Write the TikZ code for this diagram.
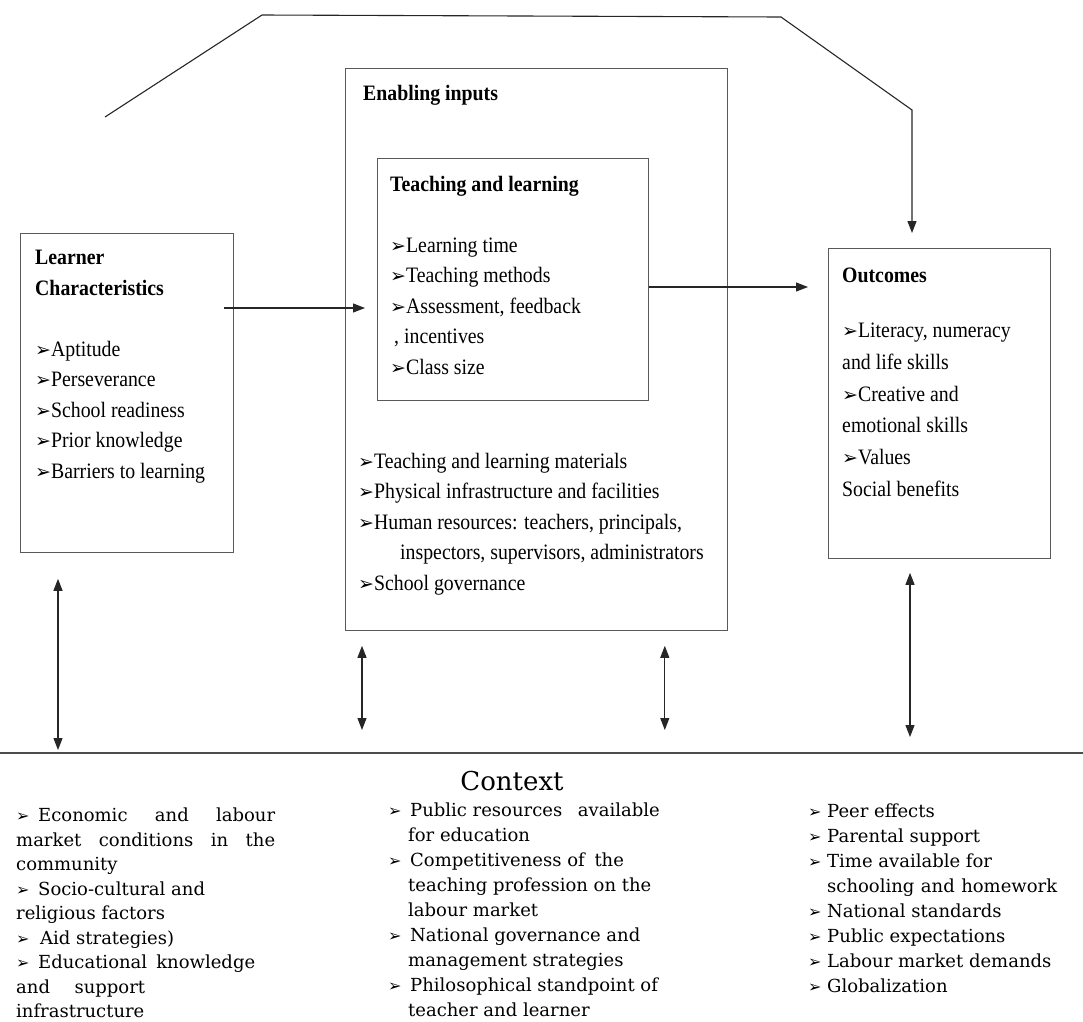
\documentclass[tikz,border=0pt]{standalone}
\usepackage{fontspec}
\setmainfont{Liberation Serif}
\newfontfamily\boxfont[FakeStretch=0.9]{Liberation Serif}
\newfontfamily\ctxfont{DejaVu Serif}
\newfontfamily\bulfont{DejaVu Sans}
\usetikzlibrary{arrows.meta,positioning,calc}

\newcommand{\bb}{{\bulfont\fontsize{19}{19}\selectfont ➢}}
\newcommand{\cb}[1][22pt]{\makebox[#1][l]{\bulfont\fontsize{16}{16}\selectfont ➢}}

\begin{document}
\begin{tikzpicture}[
    x=1pt,y=-1pt,
    box/.style={draw=black!65, line width=0.8pt, inner sep=0pt, anchor=north west},
    boxtxt/.style={anchor=north west, inner sep=0pt, align=left, font=\boxfont\fontsize{22}{30.5}\selectfont},
    ctxtxt/.style={anchor=north west, inner sep=0pt, align=left, font=\ctxfont\fontsize{18}{25}\selectfont},
    flow/.style={-{Triangle[length=12pt,width=9pt]}, line width=1.1pt, black!85},
    twoway/.style={{Triangle[length=12pt,width=9pt]}-{Triangle[length=12pt,width=9pt]}, line width=1.1pt, black!85}
  ]
    \useasboundingbox (0,0) rectangle (1083,1021);
    \clip (0,0) rectangle (1083,1021);

    % Kaesten
    \node[box, minimum width=213pt, minimum height=319pt] (learner)  at (20,233)  {};
    \node[box, minimum width=382pt, minimum height=562pt] (enabling) at (345,68)  {};
    \node[box, minimum width=271pt, minimum height=242pt] (teaching) at (377,158) {};
    \node[box, minimum width=222pt, minimum height=310pt] (outcomes) at (828,248) {};

    % Texte in den Kaesten
    \node[boxtxt] (learnertxt) at (35,250) {\textbf{Learner}\\\textbf{Characteristics}\\[30.5pt]
      \bb Aptitude\\\bb Perseverance\\\bb School readiness\\\bb Prior knowledge\\\bb Barriers to learning};
    \node[boxtxt] (enablingtxt) at (363,85) {\textbf{Enabling inputs}};
    \node[boxtxt] (teachingtxt) at (390,176) {\textbf{Teaching and learning}\\[30.5pt]
      \bb Learning time\\\bb Teaching methods\\\bb Assessment, feedback\\\hspace*{4pt}, incentives\\\bb Class size};
    \node[boxtxt] (enablinglist) at (358,453) {\bb Teaching and learning materials\\
      \bb Physical infrastructure and facilities\\\bb Human resources: teachers, principals,\\
      \hspace*{42pt}inspectors, supervisors, administrators\\\bb School governance};
    \node[boxtxt, font=\boxfont\fontsize{22}{31.8}\selectfont] (outcomestxt) at (842,268) {\textbf{Outcomes}\\[23pt]
      \bb Literacy, numeracy\\and life skills\\\bb Creative and\\emotional skills\\\bb Values\\Social benefits};

    % Pfeile zwischen den Kaesten
    \coordinate (loopstart) at (105,117);
    \coordinate (bendA) at (262,15);
    \coordinate (bendB) at (781,17);
    \coordinate (bendC) at (912,110);
    \draw[flow] (loopstart) -- (bendA) -- (bendB) -- (bendC) -- ($(outcomes.north west)+(84,-15)$);
    \draw[flow] ($(learner.north east)+(-10,75)$) -- ($(teaching.north west)+(-12,150)$);
    \draw[flow] ($(teaching.north east)+(0,129)$) -- ($(outcomes.north west)+(-20,39)$);

    % Kontext-Linie
    \coordinate (ctxl) at (0,753);
    \coordinate (ctxr) at (1083,753);
    \draw[line width=1.2pt, black!70] (ctxl) -- (ctxr);

    \draw[twoway] ($(learner.south west)+(38,26)$) -- ($(learner.south west |- ctxl)+(38,-3)$);
    \draw[twoway] ($(enabling.south west)+(17,15)$) -- ($(enabling.south west |- ctxl)+(17,-23)$);
    \draw[twoway] ($(enabling.south east)+(-63,15)$) -- ($(enabling.south east |- ctxl)+(-63,-23)$);
    \draw[twoway] ($(outcomes.south west)+(82,14)$) -- ($(outcomes.south west |- ctxl)+(82,-16)$);

    % Kontext
    \node[font=\ctxfont\fontsize{26}{26}\selectfont, anchor=base] (ctxtitle) at (512,790) {Context};
    \node[ctxtxt, font=\ctxfont\fontsize{18}{24.5}\selectfont] (ctxleft) at (16,808) {%
      \makebox[259pt][s]{\cb Economic and labour}\\
      \makebox[259pt][s]{market conditions in the}\\
      community\\
      \cb Socio-cultural and\\
      religious factors\\
      \cb[24pt]Aid strategies)\\
      \makebox[239pt][s]{\cb Educational knowledge}\\
      \makebox[129pt][s]{and support}\\
      infrastructure};
    \node[ctxtxt] (ctxmid) at (388,803) {%
      \cb Public resources\hspace{10pt} available\\
      \hspace*{20pt}for education\\
      \cb Competitiveness of\hspace{4pt} the\\
      \hspace*{20pt}teaching profession on the\\
      \hspace*{20pt}labour market\\
      \cb National governance and\\
      \hspace*{20pt}management strategies\\
      \cb Philosophical standpoint of\\
      \hspace*{20pt}teacher and learner};
    \node[ctxtxt] (ctxright) at (808,804) {%
      \cb[19pt]Peer effects\\
      \cb[19pt]Parental support\\
      \cb[19pt]Time available for\\
      \hspace*{19pt}\makebox[230pt][s]{schooling and homework}\\
      \cb[19pt]National standards\\
      \cb[19pt]Public expectations\\
      \cb[19pt]Labour market demands\\
      \cb[19pt]Globalization};
\end{tikzpicture}
\end{document}
